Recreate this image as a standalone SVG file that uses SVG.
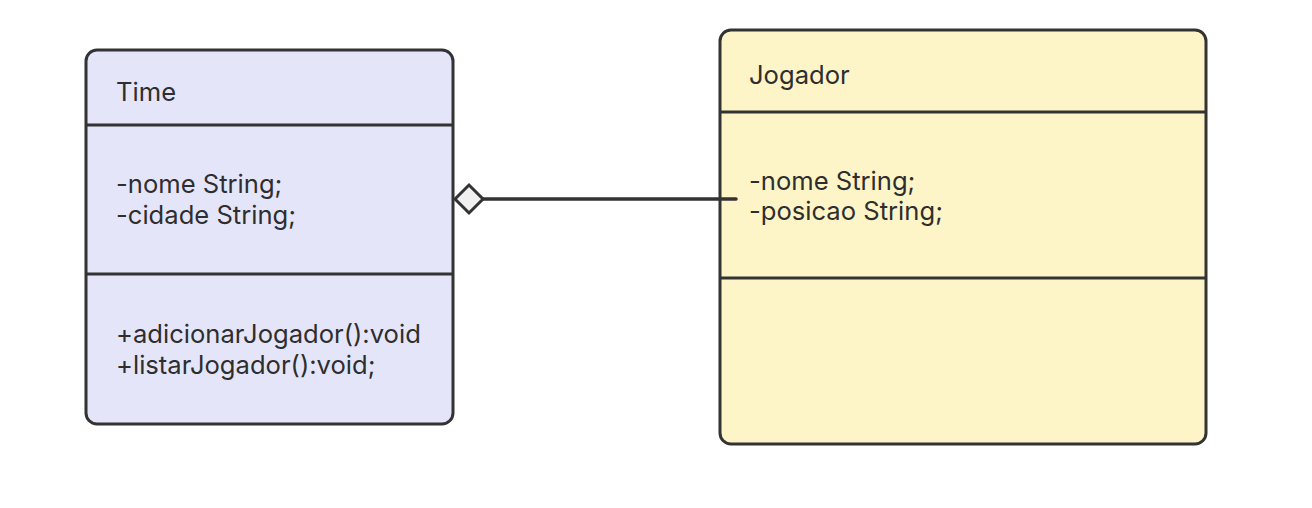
<svg xmlns="http://www.w3.org/2000/svg" width="1312" height="508" viewBox="0 0 1312 508">
<style>
.box{stroke:#333333;stroke-width:3}
.div{stroke:#333333;stroke-width:3}
.t{font-family:Inter,"Liberation Sans",sans-serif;font-size:25.6px;fill:#2e2e2e}
.edge{stroke:#333333;stroke-width:3.5;fill:none;stroke-linecap:round}
</style>
<rect width="1312" height="508" fill="#ffffff"/>
<g id="Time">
<rect class="box" x="86" y="50" width="367" height="374" rx="11" fill="#e5e5fa"/>
<line class="div" x1="86" y1="125" x2="453" y2="125"/>
<line class="div" x1="86" y1="274" x2="453" y2="274"/>
<text class="t" x="116" y="101">Time</text>
<text class="t" x="116" y="193">-nome String;</text>
<text class="t" x="116" y="224">-cidade String;</text>
<text class="t" x="116" y="343">+adicionarJogador():void</text>
<text class="t" x="116" y="374">+listarJogador():void;</text>
</g>
<g id="Jogador">
<rect class="box" x="720" y="30" width="486" height="414" rx="11" fill="#fdf4c8"/>
<line class="div" x1="720" y1="112" x2="1206" y2="112"/>
<line class="div" x1="720" y1="278" x2="1206" y2="278"/>
<text class="t" x="749" y="84">Jogador</text>
<text class="t" x="749" y="190">-nome String;</text>
<text class="t" x="749" y="220">-posicao String;</text>
</g>
<g id="connectors">
<line class="edge" x1="483" y1="199" x2="736" y2="199"/>
<path d="M455,199 L469,185 L483,199 L469,213 Z" fill="#f0f0f0" stroke="#333333" stroke-width="3" stroke-linejoin="miter"/>
</g>
</svg>
